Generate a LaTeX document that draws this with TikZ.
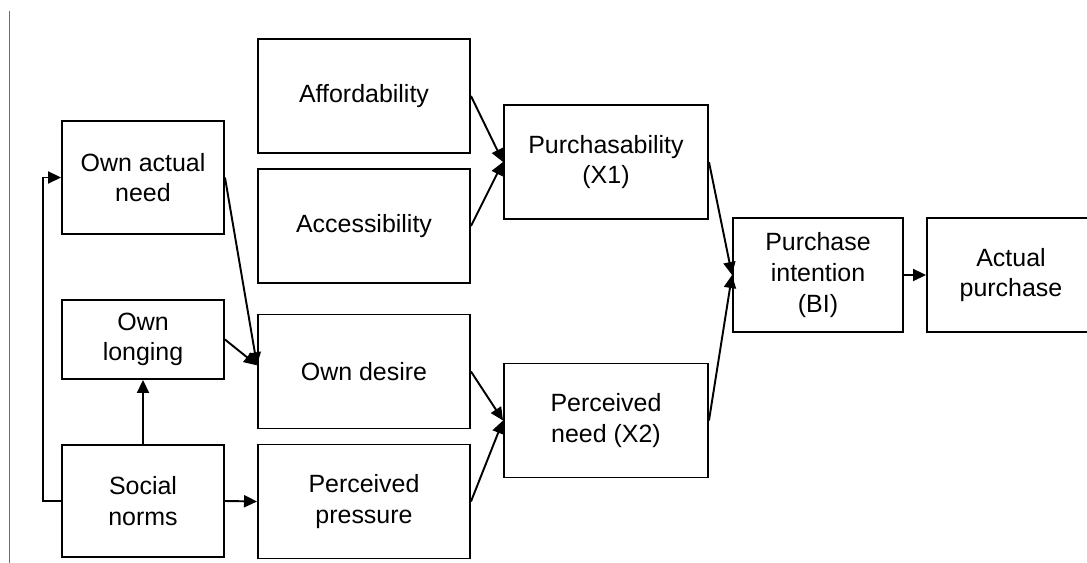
\documentclass[tikz,border=0pt]{standalone}
\usepackage{fontspec}
\setmainfont{Liberation Sans}
\usepackage{tikz}
\usetikzlibrary{arrows.meta, positioning}

\begin{document}
\begin{tikzpicture}[
	box/.style={draw, line width=1.1pt, align=center, inner sep=0pt,
		font=\fontsize{14.2}{17.5}\selectfont},
	leftbox/.style={box, minimum width=3.24cm},
	midbox/.style={box, minimum width=4.24cm, minimum height=2.28cm},
	xbox/.style={box, minimum width=4.08cm, minimum height=2.28cm},
	endbox/.style={box, minimum width=3.4cm, minimum height=2.28cm},
	link/.style={line width=1.1pt, -{Triangle[length=0.26cm,width=0.24cm]}}
	]
	\useasboundingbox (0,0) rectangle (21.74,11.26);
	% NOTE: the thin rule on the left edge is part of the scanned figure.
	\draw[line width=0.6pt, color={rgb,255:red,200;green,70;blue,75}] (0.186,0) -- (0.186,11.04);

	% left column
	\node[leftbox, minimum height=2.26cm] (need) at (2.86,7.71) {Own actual\\need};
	\node[leftbox, minimum height=1.58cm] (longing) at (2.86,4.47) {Own\\longing};
	\node[leftbox, minimum height=2.24cm] (norms) at (2.86,1.24) {Social\\norms};

	% middle column
	\node[midbox] (afford) at (7.28,9.34) {Affordability};
	\node[midbox] (access) at (7.28,6.74) {Accessibility};
	\node[midbox] (desire) at (7.28,3.83) {Own desire};
	\node[midbox] (pressure) at (7.28,1.23) {Perceived\\pressure};

	% X1 and X2
	\node[xbox] (purch) at (12.12,8.02) {Purchasability\\(X1)};
	\node[xbox] (pneed) at (12.12,2.85) {Perceived\\need (X2)};

	% right end
	\node[endbox] (intent) at (16.36,5.76) {Purchase\\intention\\(BI)};
	\node[endbox, minimum width=3.36cm] (actual) at (20.22,5.76) {Actual\\purchase};

	\draw[link] (norms.west) -- ++(-0.36,0) |- (need.west);
	\draw[link] (norms.north) -- (longing.south);
	\draw[link] (norms.east) -- (pressure.west);
	\draw[link] (need.east) -- ([yshift=3.5pt]desire.west);
	\draw[link] (longing.east) -- ([yshift=3.5pt]desire.west);
	\draw[link] (afford.east) -- (purch.west);
	\draw[link] (access.east) -- (purch.west);
	\draw[link] (desire.east) -- (pneed.west);
	\draw[link] (pressure.east) -- (pneed.west);
	\draw[link] (purch.east) -- (intent.west);
	\draw[link] (pneed.east) -- (intent.west);
	\draw[link] (intent.east) -- (actual.west);
\end{tikzpicture}
\end{document}
